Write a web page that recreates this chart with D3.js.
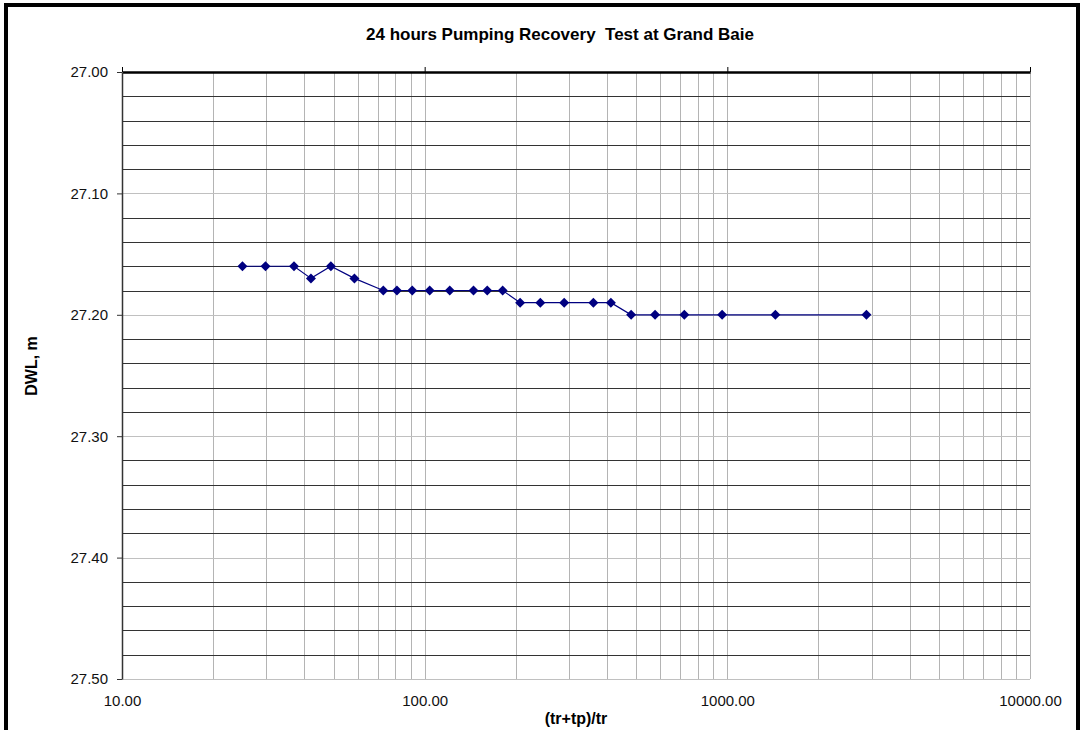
<!DOCTYPE html>
<html>
<head>
<meta charset="utf-8">
<script src="https://cdn.jsdelivr.net/npm/d3@7"></script>
<style>
  body { margin: 0; background: #fff; }
  svg { display: block; font-family: "Liberation Sans", Arial, sans-serif; }
</style>
</head>
<body>
<div id="panel1"></div>
<script>

// (tr+tp)/tr values and the water level
var ratio = [25, 29.8, 37, 42.1, 49, 58.6, 73, 81, 91, 103.9, 121, 145, 161, 181,
             206.7, 241, 289, 361, 412.4, 481, 577, 721, 961, 1441, 2881];
var dwl   = [27.16, 27.16, 27.16, 27.17, 27.16, 27.17, 27.18, 27.18, 27.18, 27.18, 27.18, 27.18, 27.18, 27.18,
             27.19, 27.19, 27.19, 27.19, 27.19, 27.20, 27.20, 27.20, 27.20, 27.20, 27.20];

var xTicks = [10, 100, 1000, 10000];
var yTicks = [27.00, 27.10, 27.20, 27.30, 27.40, 27.50];

var margin = {top: 72, left: 122, right: 53, bottom: 51},
    width  = 1083 - margin.left - margin.right,
    height = 730  - margin.top  - margin.bottom

var svg = d3.select("#panel1")
        .append("svg")
        .attr("width", 1083)
        .attr("height", 730)

// outer chart border
svg.append("rect")
    .attr("x", 6).attr("y", 5)
    .attr("width", 1072).attr("height", 760)
    .attr("fill", "none")
    .attr("stroke", "#000")
    .attr("stroke-width", 4);

var g = svg.append("g").attr("transform", "translate(" + margin.left + "," + margin.top + ")");

var x = d3.scaleLog().domain([10, 10000]).range([0, width]),
    y = d3.scaleLinear().domain([27.0, 27.5]).range([0, height]);

// vertical grid: every 1..9 x decade
var xGrid = [];
xTicks.slice(0, -1).forEach(function(d) {
  for (var k = 1; k < 10; k++) xGrid.push(d * k);
});
xGrid.push(10000);

g.selectAll(".vgrid")
  .data(xGrid.filter(function(d) { return d > 10; }))
  .enter().append("line")
    .attr("class", "vgrid")
    .attr("x1", function(d) { return Math.round(x(d)) + 0.5; })
    .attr("x2", function(d) { return Math.round(x(d)) + 0.5; })
    .attr("y1", 0).attr("y2", height)
    .attr("stroke", "#b4b4b4")
    .attr("stroke-width", 1);

// horizontal grid: minor lines dark, major lines light
var yGrid = d3.range(1, 26).map(function(i) { return 27 + i * 0.02; });

g.selectAll(".hgrid")
  .data(yGrid)
  .enter().append("line")
    .attr("class", "hgrid")
    .attr("x1", 0).attr("x2", width)
    .attr("y1", function(d) { return Math.round(y(d)) + 0.5; })
    .attr("y2", function(d) { return Math.round(y(d)) + 0.5; })
    .attr("stroke", function(d, i) { return (i + 1) % 5 == 0 ? "#c0c0c0" : "#333"; })
    .attr("stroke-width", 1);

// x axis line sits on top (reversed value axis), ticks point up
g.append("g")
  .attr("class", "axis axis--top")
  .call(d3.axisTop(x).tickValues(xTicks).tickSize(5).tickSizeOuter(0).tickFormat(""))
  .call(function(a) {
    a.select(".domain").attr("stroke", "#000").attr("stroke-width", 2.5);
    a.selectAll(".tick line").attr("stroke", "#000");
  });

// left value axis
g.append("g")
  .attr("class", "axis axis--y")
  .call(d3.axisLeft(y).tickValues(yTicks).tickSize(5).tickSizeOuter(0).tickPadding(9)
        .tickFormat(function(d) { return d.toFixed(2); }))
  .call(function(a) {
    a.select(".domain").attr("stroke", "#333").attr("stroke-width", 1.5);
    a.selectAll(".tick line").attr("stroke", "#333");
    a.selectAll("text").attr("font-size", 15).attr("fill", "#111");
  });

// bottom labels only
g.append("g")
  .attr("class", "axis axis--x")
  .attr("transform", "translate(0," + height + ")")
  .call(d3.axisBottom(x).tickValues(xTicks).tickSize(0).tickPadding(16)
        .tickFormat(function(d) { return d.toFixed(2); }))
  .call(function(a) {
    a.select(".domain").remove();
    a.selectAll("text").attr("font-size", 15).attr("fill", "#111");
  });

var line = d3.line()
    .x(function(d, i) { return x(ratio[i]); })
    .y(function(d) { return y(d); });

g.append("path")
    .datum(dwl)
    .attr("fill", "none")
    .attr("stroke", "#000080")
    .attr("stroke-width", 1.2)
    .attr("d", line);

g.selectAll(".pt")
  .data(dwl)
  .enter().append("path")
    .attr("class", "pt")
    .attr("transform", function(d, i) { return "translate(" + x(ratio[i]) + "," + y(d) + ")"; })
    .attr("d", "M0,-5L5,0L0,5L-5,0Z")
    .attr("fill", "#000080");

svg.append("text")
    .attr("x", 560)
    .attr("y", 40)
    .attr("text-anchor", "middle")
    .attr("font-size", 17)
    .attr("font-weight", "bold")
    .style("white-space", "pre")
    .text("24 hours Pumping Recovery  Test at Grand Baie");

svg.append("text")
    .attr("x", margin.left + width / 2)
    .attr("y", 724)
    .attr("text-anchor", "middle")
    .attr("font-size", 16)
    .attr("font-weight", "bold")
    .text("(tr+tp)/tr");

svg.append("text")
    .attr("transform", "translate(37,366) rotate(-90)")
    .attr("text-anchor", "middle")
    .attr("font-size", 16)
    .attr("font-weight", "bold")
    .text("DWL, m");

</script>
</body>
</html>
